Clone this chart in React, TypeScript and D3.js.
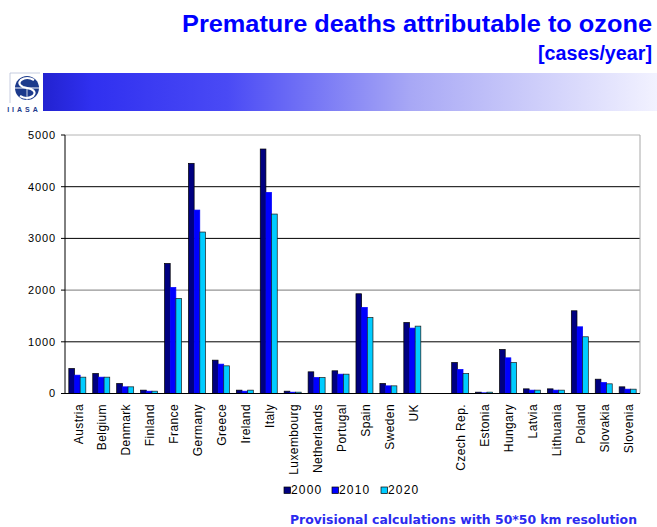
import React from "react";
import * as d3 from "d3";

const categories = ["Austria","Belgium","Denmark","Finland","France","Germany","Greece","Ireland","Italy","Luxembourg","Netherlands","Portugal","Spain","Sweden","UK","","Czech Rep.","Estonia","Hungary","Latvia","Lithuania","Poland","Slovakia","Slovenia"];
const v2000 = [484, 387, 194, 65, 2516, 4452, 645, 65, 4729, 45, 419, 439, 1929, 194, 1374, null, 600, 26, 852, 90, 90, 1600, 277, 129];
const v2010 = [355, 316, 129, 45, 2052, 3548, 568, 45, 3890, 26, 310, 374, 1665, 148, 1265, null, 465, 13, 690, 65, 65, 1290, 213, 84];
const v2020 = [316, 316, 129, 45, 1839, 3123, 535, 65, 3471, 26, 310, 374, 1471, 148, 1303, null, 387, 26, 600, 65, 65, 1097, 187, 84];
const seriesNames = ["2000", "2010", "2020"];
const yTicks = [0, 1000, 2000, 3000, 4000, 5000];

const colors = ["#000080", "#0000ff", "#00ccff"];
const strokes = ["#000000", "#0000ff", "#1a1a1a"];

export default function App() {
  const W = 657, H = 527;
  const left = 65, right = 640, top = 135, bottom = 393.5;
  const series = [v2000, v2010, v2020];
  const x = d3.scaleBand<number>().domain(d3.range(categories.length)).range([left, right]).paddingInner(0.29).paddingOuter(0.16);
  const xs = d3.scaleBand<number>().domain([0, 1, 2]).range([0, x.bandwidth()]);
  const y = d3.scaleLinear().domain([0, 5000]).range([bottom, top]);
  const gridColor = (t: number) => (t === 5000 ? "#b4b4b4" : t === 2000 ? "#7a7a7a" : "#000");

  const legendX = [284, 332, 381];

  return (
    <svg width={W} height={H} style={{ position: "absolute", left: 0, top: 0, background: "#fff" }} fontFamily="'Liberation Sans', Arial, sans-serif">
      <defs>
        <linearGradient id="ban" x1="0" x2="1" y1="0" y2="0">
          <stop offset="0" stopColor="#2222d0" />
          <stop offset="0.08" stopColor="#3030f0" />
          <stop offset="0.3" stopColor="#4a4af5" />
          <stop offset="0.6" stopColor="#a8a8f5" />
          <stop offset="1" stopColor="#f2f2ff" />
        </linearGradient>
      </defs>
      {/* Title */}
      <text x={652} y={32} textAnchor="end" fontSize={24} fontWeight="bold" fill="#0000ff" textLength={470} lengthAdjust="spacingAndGlyphs">Premature deaths attributable to ozone</text>
      <text x={652} y={60} textAnchor="end" fontSize={20} fontWeight="bold" fill="#0000ff" textLength={114} lengthAdjust="spacingAndGlyphs">[cases/year]</text>
      {/* Banner */}
      <rect x={43} y={73} width={614} height={38} fill="url(#ban)" />
      {/* Logo */}
      <line x1={10} y1={73} x2={40} y2={73} stroke="#b8c0d8" strokeWidth={0.8} />
      <line x1={10} y1={73} x2={10} y2={103} stroke="#b8c0d8" strokeWidth={0.8} />
      <circle cx={27} cy={88} r={12} fill="#1c3a8c" />
      <path d="M 34 80 Q 27 76 21 80 Q 17 84 23 87 L 31 89 Q 37 92 33 96 Q 27 100 20 96" fill="none" stroke="#fff" strokeWidth={2.2} />
      <line x1={15} y1={88} x2={39} y2={88} stroke="#fff" strokeWidth={1} />
      <line x1={27} y1={88} x2={27} y2={100} stroke="#fff" strokeWidth={0.8} />
      <text x={24} y={112} textAnchor="middle" fontSize={7} fill="#1c3a8c" letterSpacing={3} fontWeight="bold">IIASA</text>

      {/* Grid */}
      {yTicks.filter(t => t > 0).map(t => (
        <line key={t} x1={left} x2={right} y1={y(t)} y2={y(t)} stroke={gridColor(t)} strokeWidth={1} />
      ))}
      <line x1={right} x2={right} y1={top} y2={bottom} stroke="#a8a8a8" strokeWidth={1} />

      {/* Bars */}
      {series.map((vals, si) => (
        <g key={si}>
          {vals.map((v, i) => v == null ? null : (
            <rect key={i} x={(x(i) as number) + (xs(si) as number)} y={y(v)} width={xs.bandwidth()} height={bottom - y(v)} fill={colors[si]} stroke={strokes[si]} strokeWidth={0.7} />
          ))}
        </g>
      ))}

      {/* Axes */}
      <line x1={left} x2={left} y1={top} y2={bottom} stroke="#000" strokeWidth={1} />
      <line x1={left} x2={right} y1={bottom} y2={bottom} stroke="#000" strokeWidth={1} />
      {yTicks.map(t => (
        <g key={t}>
          <line x1={left - 4} x2={left} y1={y(t)} y2={y(t)} stroke="#000" />
          <text x={56} y={y(t)} dy="0.35em" textAnchor="end" fontSize={11} letterSpacing={0.9} fill="#000">{t}</text>
        </g>
      ))}
      {categories.map((c, i) => (
        <text key={i} transform={`translate(${(x(i) as number) + x.bandwidth() / 2 + 1},404) rotate(-90)`} dy="0.35em" textAnchor="end" fontSize={12} letterSpacing={0.4} fill="#000">{c}</text>
      ))}

      {/* Legend */}
      {seriesNames.map((s, i) => (
        <g key={s}>
          <rect x={legendX[i]} y={487} width={6.5} height={6.5} fill={colors[i]} stroke="#000" strokeWidth={0.7} />
          <text x={legendX[i] + 7} y={494} fontSize={12} letterSpacing={1.2} fill="#000">{s}</text>
        </g>
      ))}

      {/* Footer */}
      <text x={637} y={524} textAnchor="end" fontFamily="'DejaVu Sans', Verdana, sans-serif" fontSize={12} fontWeight="bold" fill="#2b2bef" textLength={347} lengthAdjust="spacingAndGlyphs">Provisional calculations with 50*50 km resolution</text>
    </svg>
  );
}
